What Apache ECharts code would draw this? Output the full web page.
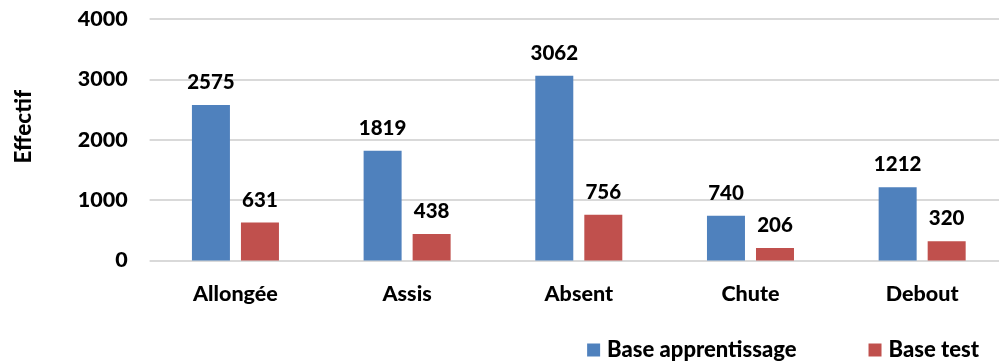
<!DOCTYPE html>
<html>
<head>
<meta charset="utf-8">
<script src="https://cdn.jsdelivr.net/npm/echarts@6/dist/echarts.min.js"></script>
<style>html,body{margin:0;padding:0;background:#fff;}#c{width:999px;height:361px;}</style>
</head>
<body>
<div id="c"></div>
<script>
const categories = ['Allongée', 'Assis', 'Absent', 'Chute', 'Debout'];
const apprentissage = [2575, 1819, 3062, 740, 1212];
const test = [631, 438, 756, 206, 320];
const seriesNames = ['Base apprentissage', 'Base test'];
const yTicks = { min: 0, max: 4000, interval: 1000 };

const FONT = 'Lato';
const W = 900;
const chart = echarts.init(document.getElementById('c'), null, { renderer: 'canvas' });
const labelStyle = {
  show: true, position: 'top', distance: 12,
  color: '#000', fontFamily: FONT, fontWeight: W, fontSize: 20.5
};
chart.setOption({
  animation: false,
  backgroundColor: '#fff',
  grid: { left: 149.6, right: -9, top: 19, height: 241.5, containLabel: false, outerBoundsMode: 'none' },
  legend: {
    data: seriesNames,
    right: 15, top: 334,
    icon: 'rect', itemWidth: 13, itemHeight: 13, itemGap: 72, itemStyle: { borderWidth: 0 },
    textStyle: { color: '#000', fontFamily: FONT, fontWeight: W, fontSize: 22, padding: [0, 0, 0, 2] }
  },
  xAxis: {
    type: 'category', data: categories,
    axisLine: { show: false }, axisTick: { show: false },
    axisLabel: { color: '#000', fontFamily: FONT, fontWeight: W, fontSize: 21.5, margin: 23 }
  },
  yAxis: {
    type: 'value', min: yTicks.min, max: yTicks.max, interval: yTicks.interval,
    name: 'Effectif', nameLocation: 'middle', nameGap: 114,
    nameTextStyle: { color: '#000', fontFamily: FONT, fontWeight: W, fontSize: 22.5, padding: [0, 0, 0, 26] },
    axisLine: { show: false }, axisTick: { show: false },
    axisLabel: { color: '#000', fontFamily: FONT, fontWeight: W, fontSize: 21.5, margin: 22,
      formatter: v => String(v) },
    splitLine: { lineStyle: { color: '#D9D9D9', width: 2 } }
  },
  series: [
    { name: seriesNames[0], type: 'bar', data: apprentissage, barWidth: 38, barGap: '29%',
      itemStyle: { color: '#4F81BD' }, label: labelStyle },
    { name: seriesNames[1], type: 'bar', data: test, barWidth: 38, barGap: '29%',
      itemStyle: { color: '#C0504D' }, label: labelStyle }
  ]
});
</script>
</body>
</html>
